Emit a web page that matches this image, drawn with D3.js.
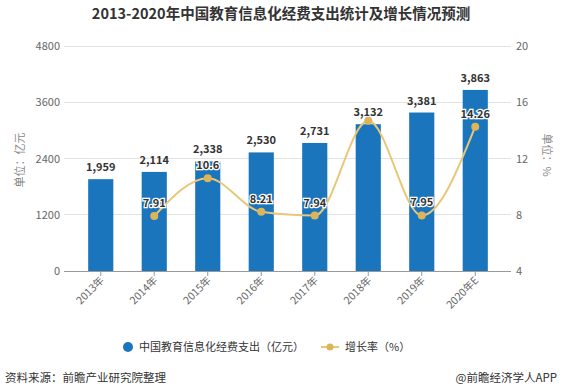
<!DOCTYPE html>
<html><head><meta charset="utf-8">
<script src="https://cdn.jsdelivr.net/npm/d3@7"></script>
<style>body{margin:0;background:#fff}svg{display:block}text{font-family:"Noto Sans CJK SC","Noto Sans",sans-serif}</style>
</head><body><svg id="c" width="562" height="390"></svg>
<script>
const categories = ["2013年","2014年","2015年","2016年","2017年","2018年","2019年","2020年E"];
const spending = [1959,2114,2338,2530,2731,3132,3381,3863];
const growth = [null,7.91,10.6,8.21,7.94,14.68,7.95,14.26];
const growthLabels = [null,"7.91","10.6","8.21","7.94",null,"7.95","14.26"];
const leftTicks = [0,1200,2400,3600,4800];
const rightTicks = [4,8,12,16,20];

const svg = d3.select("#c");
const m={l:64,r:505,t:46,b:271};
const x = d3.scaleBand().domain(categories).range([74,502]).paddingInner(0.53).paddingOuter(0.265);
const yL = d3.scaleLinear().domain([0,4800]).range([m.b,m.t]);
const yR = d3.scaleLinear().domain([4,20]).range([m.b,m.t]);

svg.append("text").attr("x",281).attr("y",19).attr("text-anchor","middle")
  .attr("font-size",14.5).attr("font-weight","bold").attr("fill","#333")
  .text("2013-2020年中国教育信息化经费支出统计及增长情况预测");

svg.append("g").selectAll("line").data(leftTicks).join("line")
  .attr("x1",m.l).attr("x2",m.r).attr("y1",d=>yL(d)).attr("y2",d=>yL(d))
  .attr("stroke",d=>d===0?"#999":"#e3e3e3").attr("stroke-width",1).attr("shape-rendering","crispEdges");
svg.append("g").selectAll("line").data(rightTicks).join("line")
  .attr("x1",m.r).attr("x2",m.r+6).attr("y1",d=>yR(d)).attr("y2",d=>yR(d))
  .attr("stroke",d=>d===4?"#999":"#e3e3e3").attr("shape-rendering","crispEdges");

svg.append("g").selectAll("text").data(leftTicks).join("text")
  .attr("x",60).attr("y",d=>yL(d)+4).attr("text-anchor","end")
  .attr("font-size",11).attr("fill","#666").text(d=>d);
svg.append("g").selectAll("text").data(rightTicks).join("text")
  .attr("x",516).attr("y",d=>yR(d)+4).attr("text-anchor","start")
  .attr("font-size",11).attr("fill","#666").text(d=>d);

svg.append("text").attr("transform","translate(24,160) rotate(-90)").attr("text-anchor","middle")
  .attr("font-size",11).attr("fill","#888").text("单位：亿元");
svg.append("text").attr("transform","translate(543,155) rotate(90)").attr("text-anchor","middle")
  .attr("font-size",11).attr("fill","#888").text("单位：%");

const xg = svg.append("g");
xg.selectAll("line").data(categories).join("line")
  .attr("x1",d=>x(d)+x.bandwidth()/2).attr("x2",d=>x(d)+x.bandwidth()/2)
  .attr("y1",m.b).attr("y2",m.b+5).attr("stroke","#999");
xg.selectAll("text").data(categories).join("text")
  .attr("transform",d=>`translate(${x(d)+x.bandwidth()/2+4},${m.b+10}) rotate(-45)`)
  .attr("text-anchor","end").attr("font-size",10.5).attr("fill","#666").text(d=>d);

svg.append("g").selectAll("rect").data(spending).join("rect")
  .attr("x",(d,i)=>x(categories[i])).attr("width",x.bandwidth())
  .attr("y",d=>yL(d)).attr("height",d=>m.b-yL(d)).attr("fill","#1b75bc");
svg.append("g").selectAll("text").data(spending).join("text")
  .attr("x",(d,i)=>x(categories[i])+x.bandwidth()/2).attr("y",d=>yL(d)-8)
  .attr("text-anchor","middle").attr("font-size",11).attr("font-weight","bold").attr("fill","#333")
  .text(d=>d3.format(",")(d));

const pts = growth.map((g,i)=>({g,i})).filter(p=>p.g!==null);
const line = d3.line().x(p=>x(categories[p.i])+x.bandwidth()/2).y(p=>yR(p.g)).curve(d3.curveMonotoneX);
svg.append("path").datum(pts).attr("d",line).attr("fill","none").attr("stroke","#e8c778").attr("stroke-width",2);
svg.append("g").selectAll("circle").data(pts).join("circle")
  .attr("cx",p=>x(categories[p.i])+x.bandwidth()/2).attr("cy",p=>yR(p.g)).attr("r",4).attr("fill","#dcb45a");
svg.append("g").selectAll("text").data(pts.filter(p=>growthLabels[p.i])).join("text")
  .attr("x",p=>x(categories[p.i])+x.bandwidth()/2).attr("y",p=>yR(p.g)-9)
  .attr("text-anchor","middle").attr("font-size",11).attr("font-weight","bold").attr("fill","#333")
  .attr("stroke","#fff").attr("stroke-width",2.5).attr("paint-order","stroke")
  .text(p=>growthLabels[p.i]);

const lg = svg.append("g");
lg.append("circle").attr("cx",128).attr("cy",347).attr("r",5).attr("fill","#1b75bc");
lg.append("text").attr("x",139).attr("y",351).attr("font-size",11).attr("fill","#333").text("中国教育信息化经费支出（亿元）");
lg.append("line").attr("x1",321).attr("x2",339).attr("y1",347).attr("y2",347).attr("stroke","#e8c778").attr("stroke-width",2);
lg.append("circle").attr("cx",330).attr("cy",347).attr("r",3.5).attr("fill","#dcb45a");
lg.append("text").attr("x",345).attr("y",351).attr("font-size",11).attr("fill","#333").text("增长率（%）");

svg.append("text").attr("x",5).attr("y",382).attr("font-size",11.5).attr("fill","#333").text("资料来源：前瞻产业研究院整理");
svg.append("text").attr("x",557).attr("y",382).attr("text-anchor","end").attr("font-size",11.5).attr("fill","#333").text("@前瞻经济学人APP");
</script></body></html>
